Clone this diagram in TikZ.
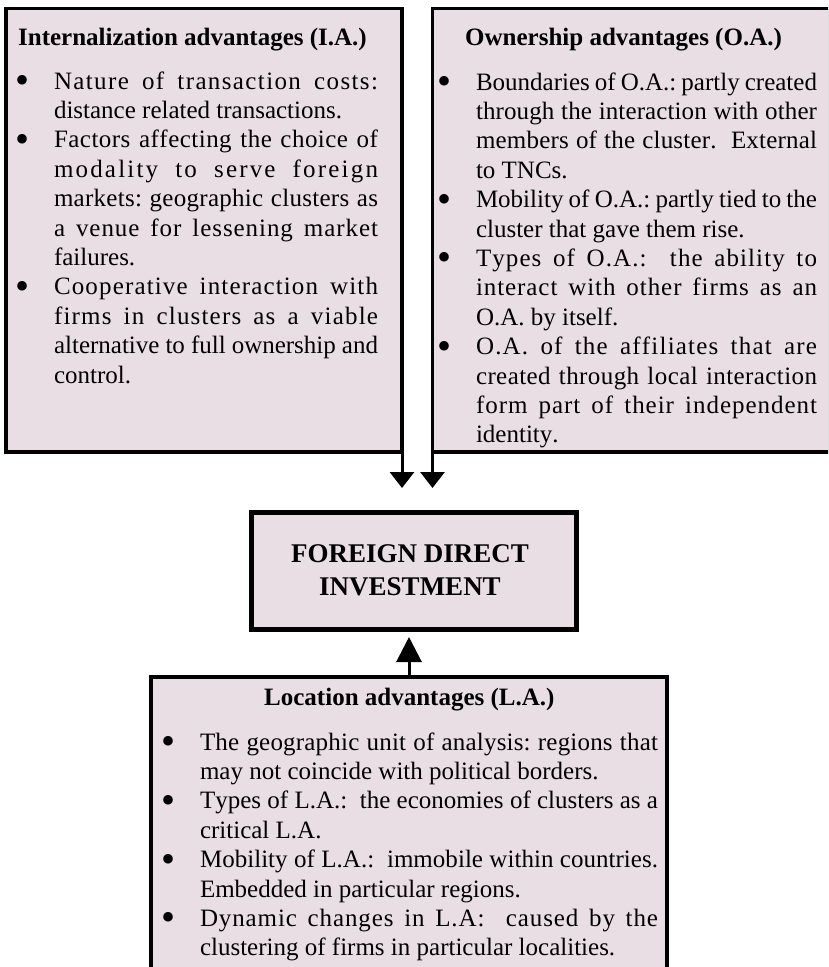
\documentclass[tikz,border=0pt]{standalone}
\usepackage{fontspec}
\usepackage{graphicx}
\setmainfont{Liberation Serif}
\usetikzlibrary{arrows.meta}
\definecolor{panelfill}{RGB}{233,222,228}
\XeTeXinterchartoks 0 0 = {\hskip 0pt plus 1fil\relax}
\newdimen\linew
\newcommand\jline[1]{\hbox to \linew{#1}}
\newcommand\lline[1]{\hbox to \linew{#1\hskip 0pt plus 1fill\relax}}
\newcommand\bul{\llap{\hbox to 39pt{\raisebox{-4.5pt}{\scalebox{1.6}{\textbullet}}\hfil}}}
\newcommand\bodyset[1]{\fontsize{25}{29.4}\selectfont\frenchspacing\spaceskip=0.25em plus 5fil minus 0.07em\relax\linew=#1\relax\XeTeXinterchartokenstate=1\relax}
\begin{document}
\begin{tikzpicture}[x=1pt,y=-1pt,
  panel/.style={draw=black, fill=panelfill, line width=3.5pt, rectangle, inner sep=0pt, outer sep=0pt},
  bodytext/.style={inner sep=0pt, outer sep=0pt, anchor=base west},
  headtext/.style={inner sep=0pt, anchor=base west, font=\fontsize{25}{30}\selectfont\bfseries},
  fditext/.style={inner sep=0pt, anchor=base, font=\fontsize{27}{33}\selectfont\bfseries},
  downarr/.style={line width=3pt, -{Triangle[length=16pt,width=24pt]}},
  uparr/.style={line width=3pt, -{Triangle[length=25pt,width=25pt]}}]
\useasboundingbox (0,0) rectangle (828,967);
\fill[white] (0,0) rectangle (828,967);
\begin{scope}
\clip (0,0) rectangle (828,967);
% panels
\node[panel, minimum width=396pt, minimum height=443.5pt] (ia) at (204,230.25) {};
\node[panel, minimum width=397pt, minimum height=443.5pt] (oa) at (631,230.25) {};
\node[panel, line width=5pt, minimum width=325pt, minimum height=117pt] (fdi) at (414,571) {};
\node[panel, minimum width=516pt, minimum height=323pt] (la) at (409,838.5) {};
% headers
\node[headtext] (iahead) at (18,45) {Internalization advantages (I.A.)};
\node[headtext] (oahead) at (465,45) {Ownership advantages (O.A.)};
\node[headtext] (lahead) at (264,705) {Location advantages (L.A.)};
\node[fditext] (fdione) at (410,562) {FOREIGN DIRECT};
\node[fditext] (fditwo) at (410,595) {INVESTMENT};
% bodies
\node[bodytext] (iabody) at (54,89) {\vtop{\bodyset{324pt}
 \jline{\bul Nature of transaction costs:}
 \lline{distance related transactions.}
 \jline{\bul Factors affecting the choice of}
 \jline{modality to serve foreign}
 \jline{markets: geographic clusters as}
 \jline{a venue for lessening market}
 \lline{failures.}
 \jline{\bul Cooperative interaction with}
 \jline{firms in clusters as a viable}
 \jline{alternative to full ownership and}
 \lline{control.}}};
\node[bodytext] (oabody) at (476,90) {\vtop{\bodyset{341pt}
 \jline{\bul Boundaries of O.A.: partly created}
 \jline{through the interaction with other}
 \jline{members of the cluster.\ \ External}
 \lline{to TNCs.}
 \jline{\bul Mobility of O.A.: partly tied to the}
 \lline{cluster that gave them rise.}
 \jline{\bul Types of O.A.:\ \ the ability to}
 \jline{interact with other firms as an}
 \lline{O.A. by itself.}
 \jline{\bul O.A. of the affiliates that are}
 \jline{created through local interaction}
 \jline{form part of their independent}
 \lline{identity.}}};
\node[bodytext] (labody) at (200,750) {\vtop{\bodyset{458pt}
 \jline{\bul The geographic unit of analysis: regions that}
 \lline{may not coincide with political borders.}
 \jline{\bul Types of L.A.:\ \ the economies of clusters as a}
 \lline{critical L.A.}
 \jline{\bul Mobility of L.A.:\ \ immobile within countries.}
 \lline{Embedded in particular regions.}
 \jline{\bul Dynamic changes in L.A:\ \ caused by the}
 \lline{clustering of firms in particular localities.}}};
% connectors
\coordinate (tipa) at (402,488);
\coordinate (tipb) at (432.5,488);
\coordinate (tipc) at (409,637);
\draw[downarr] (ia.south east) -- (tipa);
\draw[downarr] (oa.south west) -- (tipb);
\draw[uparr] (la.north) -- (tipc);
\end{scope}
\end{tikzpicture}
\end{document}
